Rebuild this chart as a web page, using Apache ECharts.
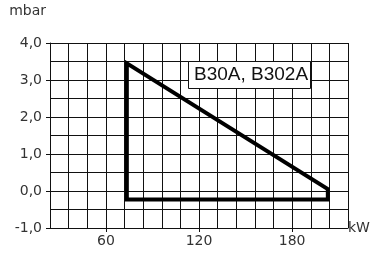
<!DOCTYPE html>
<html>
<head>
<meta charset="utf-8">
<script src="https://cdn.jsdelivr.net/npm/echarts@6/dist/echarts.min.js"></script>
<style>html,body{margin:0;padding:0;background:#fff}#c{width:387px;height:267px}</style>
</head>
<body>
<div id="c"></div>
<script>
// Data
const kW = [73.5, 73.5, 203, 203, 73.5];
const mbar = [-0.23, 3.45, 0.05, -0.23, -0.23];
const xTickLabels = [60, 120, 180];
const seriesLabel = 'B30A, B302A';
const xName = 'kW';
const yName = 'mbar';

const chart = echarts.init(document.getElementById('c'), null, {renderer: 'canvas'});
const labelFont = {color: '#333', fontFamily: 'DejaVu Sans', fontSize: 14};
const gridColor = '#111';
chart.setOption({
  animation: false,
  grid: {left: 50, right: 39, top: 43, bottom: 39, containLabel: false},
  xAxis: [{
    type: 'value', min: 24, max: 216, interval: 12, position: 'bottom',
    axisLine: {show: true, onZero: false, lineStyle: {color: gridColor, width: 1}},
    axisTick: {show: false},
    axisLabel: {show: false},
    splitLine: {show: true, lineStyle: {color: gridColor, width: 1}}
  }, {
    type: 'value', min: 24, max: 216, position: 'bottom',
    name: xName, nameLocation: 'end', nameGap: 0,
    nameTextStyle: Object.assign({}, labelFont, {align: 'left', verticalAlign: 'middle', padding: [26, 0, 0, 0]}),
    axisLine: {show: false, onZero: false},
    axisTick: {show: true, length: 4, customValues: xTickLabels, lineStyle: {color: gridColor}},
    axisLabel: Object.assign({show: true, margin: 6, customValues: xTickLabels}, labelFont),
    splitLine: {show: false}
  }],
  yAxis: {
    type: 'value', min: -1, max: 4, interval: 1,
    name: yName, nameLocation: 'end', nameGap: 32,
    nameTextStyle: Object.assign({}, labelFont, {align: 'right', verticalAlign: 'middle', padding: [0, 4, 0, 0]}),
    axisLine: {show: true, onZero: false, lineStyle: {color: gridColor, width: 1}},
    axisTick: {show: true, length: 4, lineStyle: {color: gridColor}},
    axisLabel: Object.assign({margin: 8, formatter: v => v.toFixed(1).replace('.', ',')}, labelFont),
    splitLine: {show: true, lineStyle: {color: gridColor, width: 1}},
    minorTick: {show: false, splitNumber: 2},
    minorSplitLine: {show: true, lineStyle: {color: gridColor, width: 1}}
  },
  series: [{
    type: 'line', xAxisIndex: 0,
    data: kW.map((x, i) => [x, mbar[i]]),
    showSymbol: false, symbol: 'none',
    lineStyle: {color: '#000', width: 4, cap: 'square', join: 'miter'},
    z: 5
  }],
  graphic: [{
    type: 'rect', left: 188, top: 61, z: 100, zlevel: 1,
    shape: {x: 0, y: 0, width: 122, height: 27},
    style: {fill: '#fff', stroke: '#111', lineWidth: 1}
  }, {
    type: 'text', left: 194, top: 65, z: 101, zlevel: 1,
    style: {text: seriesLabel, fill: '#111', font: '19px "Liberation Sans", Arial, sans-serif'}
  }]
});
</script>
</body>
</html>
